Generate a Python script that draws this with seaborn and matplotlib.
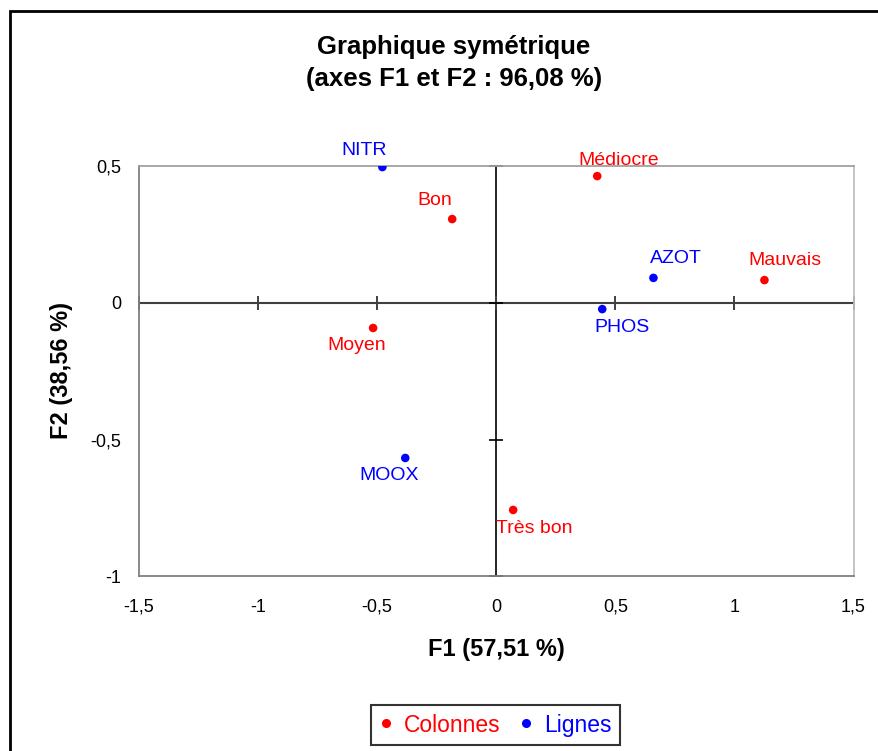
import pandas as pd
import matplotlib.pyplot as plt
import seaborn as sns
from matplotlib.patches import Rectangle
from matplotlib.lines import Line2D

# Column points (red) - quality classes
col_labels = ["Bon", "Médiocre", "Mauvais", "Moyen", "Très bon"]
col_f1 = [-0.185, 0.424, 1.126, -0.517, 0.071]
col_f2 = [0.306, 0.463, 0.083, -0.092, -0.757]

# Row points (blue) - variables
row_labels = ["NITR", "AZOT", "PHOS", "MOOX"]
row_f1 = [-0.478, 0.660, 0.445, -0.382]
row_f2 = [0.496, 0.091, -0.023, -0.567]

x_ticks = [-1.5, -1, -0.5, 0, 0.5, 1, 1.5]
x_ticklabels = ["-1,5", "-1", "-0,5", "0", "0,5", "1", "1,5"]
y_ticks = [-1, -0.5, 0, 0.5]
y_ticklabels = ["-1", "-0,5", "0", "0,5"]

# label offsets around each point, in pixels
label_offsets = {
    "NITR": (-18, 17), "Bon": (-17, 19), "Médiocre": (21, 16),
    "AZOT": (22, 19), "Mauvais": (21, 20), "PHOS": (20, -18),
    "Moyen": (-16, -18), "MOOX": (-16, -18), "Très bon": (21, -19),
}

df = pd.DataFrame({
    "F1": col_f1 + row_f1,
    "F2": col_f2 + row_f2,
    "type": ["Colonnes"] * len(col_labels) + ["Lignes"] * len(row_labels),
    "label": col_labels + row_labels,
})
palette = {"Colonnes": "#FF0000", "Lignes": "#0000FF"}

sns.set_style("white")
plt.rcParams["font.family"] = ["Liberation Sans", "DejaVu Sans"]
plt.rcParams["text.color"] = "black"
plt.rcParams["xtick.color"] = "black"
plt.rcParams["ytick.color"] = "black"

fig = plt.figure(figsize=(8.79, 7.51), dpi=100)
ax = fig.add_axes([0.1581, 0.2324, 0.8129, 0.5466])

sns.scatterplot(data=df, x="F1", y="F2", hue="type", palette=palette,
                s=38, edgecolor="none", legend=False, ax=ax, zorder=4)

for _, r in df.iterrows():
    dx, dy = label_offsets[r["label"]]
    ax.annotate(r["label"], (r["F1"], r["F2"]), xytext=(dx, dy),
                textcoords="offset pixels", ha="center", va="center",
                fontsize=14, color=palette[r["type"]])

ax.set_xlim(-1.5, 1.5)
ax.set_ylim(-1, 0.5)

# axes through the origin with crossing ticks
ax.axhline(0, color="#404040", lw=1.5, zorder=2)
ax.axvline(0, color="black", lw=1.2, zorder=2)
ax.plot(x_ticks, [0] * len(x_ticks), ls="none", marker="|", ms=10,
        mew=1.4, color="#404040", zorder=2, clip_on=False)
ax.plot([0] * len(y_ticks), y_ticks, ls="none", marker="_", ms=10,
        mew=1.2, color="black", zorder=2, clip_on=False)

ax.set_xticks(x_ticks, x_ticklabels)
ax.set_yticks(y_ticks, y_ticklabels)
ax.tick_params(axis="x", length=0, pad=16, labelsize=13, labelcolor="black")
ax.tick_params(axis="y", length=0, pad=13, labelsize=13, labelcolor="black")
ax.set_xlabel("")
ax.set_ylabel("")

ax.spines["left"].set_color("#808080")
ax.spines["bottom"].set_color("#808080")
ax.spines["top"].set_color("#a0a0a0")
ax.spines["right"].set_color("#c0c0c0")
for s in ax.spines.values():
    s.set_linewidth(1.3)

# titles and axis labels
fig.text(0.5165, 0.9277, "Graphique symétrique", ha="center", va="baseline",
         fontsize=18.5, fontweight="bold", color="black")
fig.text(0.5165, 0.8855, "(axes F1 et F2 : 96,08 %)", ha="center", va="baseline",
         fontsize=18.5, fontweight="bold", color="black")
fig.text(0.5643, 0.1345, "F1 (57,51 %)", ha="center", va="center",
         fontsize=17, fontweight="bold", color="black")
fig.text(0.0694, 0.5073, "F2 (38,56 %)", ha="center", va="center",
         rotation=90, fontsize=17, fontweight="bold", color="black")

handles = [Line2D([], [], ls="none", marker="o", ms=5.5, color=palette[k]) for k in palette]
leg = fig.legend(handles, list(palette), loc="center", bbox_to_anchor=(0.5637, 0.0346),
                 ncol=2, fontsize=16.5, labelcolor=[palette[k] for k in palette],
                 frameon=True, fancybox=False, handlelength=0.6, handletextpad=0.5,
                 columnspacing=0.8, borderpad=0.35)
leg.get_frame().set_edgecolor("black")
leg.get_frame().set_linewidth(1.5)

# outer chart border (runs off the right and bottom edge)
fig.patches.append(Rectangle((9.5 / 879, -0.05), 1.2, 0.986 + 0.05,
                             transform=fig.transFigure, fill=False,
                             edgecolor="black", lw=2))

plt.savefig("out.png", dpi=100)
